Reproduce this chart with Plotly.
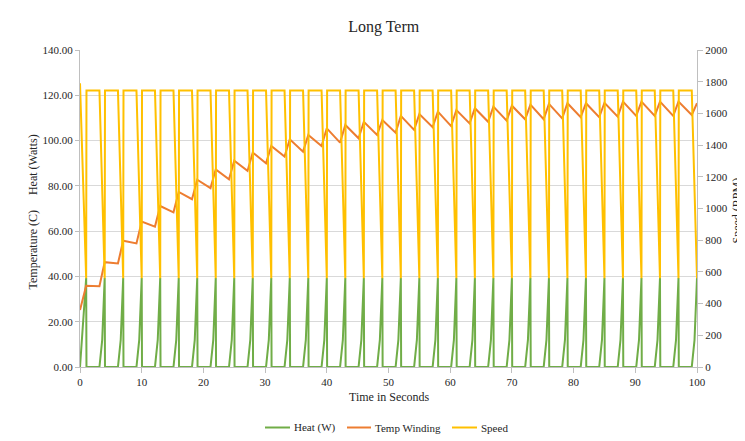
import plotly.graph_objects as go

# ---- data ----
peak_times = [1, 4, 7, 10, 13, 16, 19, 22, 25, 28, 31, 34, 37, 40, 43, 46, 49,
              52, 55, 58, 61, 64, 67, 70, 73, 76, 79, 82, 85, 88, 91, 94, 97, 100]
temp_start = 25.2
temp_peak = [35.9, 46.3, 55.8, 64.2, 71.1, 77.3, 82.7, 87.3, 91.1, 94.7, 97.6,
             100.6, 102.5, 105.4, 106.9, 108.3, 109.1, 110.9, 111.7, 112.8, 113.5,
             114.3, 115.0, 115.4, 115.9, 116.2, 116.5, 116.5, 116.7, 117.2, 117.2,
             117.2, 117.2, 116.5]
temp_trough = [35.7, 45.7, 54.6, 62.0, 68.3, 74.1, 79.0, 82.9, 86.6, 90.0, 92.9,
               95.1, 97.6, 99.1, 101.0, 102.5, 103.5, 104.7, 105.9, 106.4, 107.6,
               108.3, 108.8, 109.4, 109.4, 109.8, 110.3, 110.3, 110.6, 110.9, 110.9,
               110.9, 111.3]
heat_peak = 39.3
heat_mid = 12.0
speed_start = 1790
speed_high = 1745
speed_low = 560
pulse_lead = 0.85   # s from heat-on to peak
pulse_mid = 0.4
drop_lag = 0.05

x_ticks = [0, 10, 20, 30, 40, 50, 60, 70, 80, 90, 100]
left_ticks = [0, 20, 40, 60, 80, 100, 120, 140]
right_ticks = [0, 200, 400, 600, 800, 1000, 1200, 1400, 1600, 1800, 2000]

# ---- build the series from the per-cycle readings ----
heat_t, heat_v = [0.0], [0.0]
speed_t, speed_v = [0.0], [speed_start]
temp_t, temp_v = [0.0], [temp_start]
n = len(peak_times)
for k, tp in enumerate(peak_times):
    if k > 0:
        heat_t += [tp - pulse_lead, tp - pulse_mid]
        heat_v += [0.0, heat_mid]
        speed_t.append(tp - pulse_lead)
        speed_v.append(speed_high)
    heat_t.append(tp); heat_v.append(heat_peak)
    speed_t.append(tp); speed_v.append(speed_low)
    temp_t.append(tp); temp_v.append(temp_peak[k])
    if k < n - 1:
        heat_t.append(tp + drop_lag); heat_v.append(0.0)
        speed_t.append(tp + drop_lag); speed_v.append(speed_high)
        temp_t.append(peak_times[k + 1] - pulse_lead); temp_v.append(temp_trough[k])

GREEN = "#70AD47"
ORANGE = "#ED7D31"
YELLOW = "#FFC000"
TXT = "#262626"
FONT = "Liberation Serif"

# page body adds an 8px offset; figure is sized so the plot lands where the reference has it
OFF = 8
W, H = 745 - OFF, 441 - OFF
PX0, PX1, PY0, PY1 = 80, 697, 50, 367   # plot area in screen px
PW, PH = PX1 - PX0, PY1 - PY0


def px(x):
    return (x - PX0) / PW


def py(y):
    return (PY1 - y) / PH


fig = go.Figure()
fig.add_trace(go.Scatter(x=heat_t, y=heat_v, mode="lines", name="Heat (W)",
                         line=dict(color=GREEN, width=2), yaxis="y"))
fig.add_trace(go.Scatter(x=temp_t, y=temp_v, mode="lines", name="Temp Winding",
                         line=dict(color=ORANGE, width=2), yaxis="y"))
fig.add_trace(go.Scatter(x=speed_t, y=speed_v, mode="lines", name="Speed",
                         line=dict(color=YELLOW, width=2), yaxis="y2"))

fig.update_layout(
    width=W, height=H,
    margin=dict(l=PX0 - OFF, r=W - (PX1 - OFF), t=PY0 - OFF, b=H - (PY1 - OFF)),
    paper_bgcolor="white", plot_bgcolor="white",
    showlegend=False,
    font=dict(family=FONT, size=11, color=TXT),
    title=dict(text="Long Term", x=(383.7 - OFF) / W, xref="container",
               xanchor="center", y=1 - (26 - OFF) / H, yref="container",
               yanchor="middle", font=dict(family=FONT, size=16, color=TXT)),
    xaxis=dict(range=[0, 100], tickvals=x_ticks, ticks="outside", ticklen=5,
               tickcolor="#BFBFBF", showgrid=False, showline=True,
               linecolor="#BFBFBF", linewidth=1, zeroline=False,
               tickfont=dict(family=FONT, size=11, color=TXT)),
    yaxis=dict(range=[0, 140], tickvals=left_ticks, tickformat=".2f",
               ticks="outside", ticklen=4, tickcolor="#BFBFBF",
               showgrid=True, gridcolor="#D9D9D9", gridwidth=1,
               showline=True, linecolor="#BFBFBF", zeroline=False,
               tickfont=dict(family=FONT, size=11, color=TXT)),
    yaxis2=dict(range=[0, 2000], tickvals=right_ticks, overlaying="y",
                side="right", ticks="outside", ticklen=5, tickcolor="#BFBFBF",
                showgrid=False, showline=True, linecolor="#BFBFBF",
                zeroline=False,
                tickfont=dict(family=FONT, size=11, color=TXT)),
)

nb = "\u00a0"
annotations = [
    dict(text="Temperature (C)" + nb * 5 + "Heat (Watts)", textangle=-90,
         x=px(32.5), y=py(212), xref="paper", yref="paper",
         showarrow=False, xanchor="center", yanchor="middle",
         font=dict(family=FONT, size=12, color=TXT)),
    dict(text="Speed (RPM)", textangle=-90,
         x=px(736), y=py(210.5), xref="paper", yref="paper",
         showarrow=False, xanchor="center", yanchor="middle",
         font=dict(family=FONT, size=12, color=TXT)),
    dict(text="Time in Seconds",
         x=px(389), y=py(397), xref="paper", yref="paper",
         showarrow=False, xanchor="center", yanchor="middle",
         font=dict(family=FONT, size=12, color=TXT)),
]

# manual legend
legend_items = [("Heat (W)", GREEN, 265, 290), ("Temp Winding", ORANGE, 347, 371),
                ("Speed", YELLOW, 452, 477)]
ly = py(427.5)
shapes = []
for label, col, x0, x1 in legend_items:
    shapes.append(dict(type="line", xref="paper", yref="paper",
                       x0=px(x0), x1=px(x1), y0=ly, y1=ly,
                       line=dict(color=col, width=2)))
    annotations.append(dict(text=label, x=px(x1 + 1.5), y=ly,
                            xref="paper", yref="paper", showarrow=False,
                            xanchor="left", yanchor="middle",
                            font=dict(family=FONT, size=11, color=TXT)))

fig.update_layout(annotations=annotations, shapes=shapes)
fig.write_html("out.html")
